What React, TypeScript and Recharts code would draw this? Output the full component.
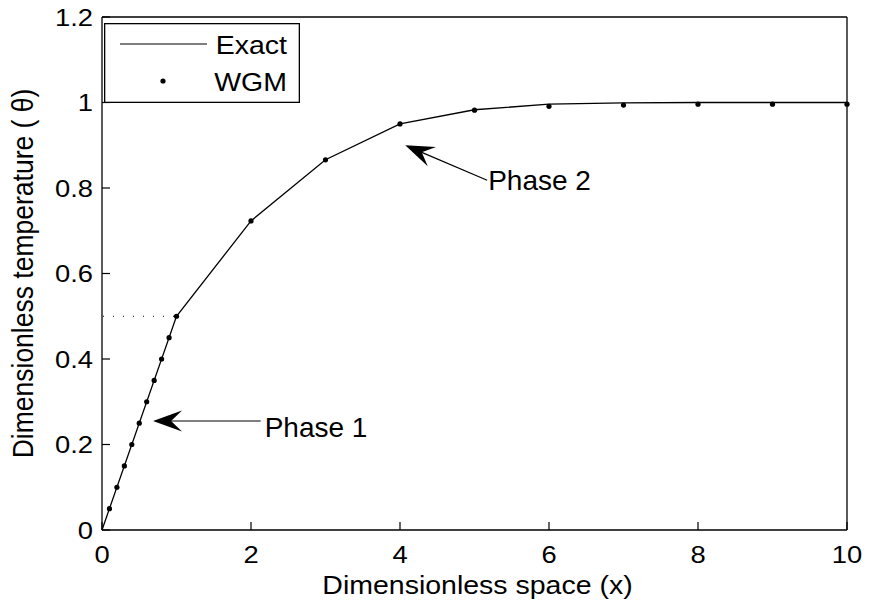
import React from 'react';
import { ComposedChart, Line, Scatter, XAxis, YAxis, ReferenceLine, Legend } from 'recharts';

// Exact solution, sampled at the grid nodes
const exactX = [0, 1, 2, 3, 4, 5, 6, 7, 8, 9, 10];
const exactTheta = [0, 0.5, 0.723, 0.866, 0.95, 0.983, 0.996, 0.999, 1.0, 1.0, 1.0];

// WGM solution points
const wgmX = [0.1, 0.2, 0.3, 0.4, 0.5, 0.6, 0.7, 0.8, 0.9, 1, 2, 3, 4, 5, 6, 7, 8, 9, 10];
const wgmTheta = [0.05, 0.1, 0.15, 0.2, 0.25, 0.3, 0.35, 0.4, 0.45, 0.5, 0.723, 0.866, 0.95, 0.982, 0.991, 0.994, 0.996, 0.996, 0.996];

const xTicks = [0, 2, 4, 6, 8, 10];
const yTicks = [0, 0.2, 0.4, 0.6, 0.8, 1, 1.2];

// phase boundary marker at theta = 0.5
const phaseBoundaryX = [0, 1];
const phaseBoundaryTheta = 0.5;

// annotation arrows: tip first, then tail
const phase1Tip = { x: 0.685, y: 0.255 };
const phase1Tail = { x: 2.13, y: 0.255 };
const phase2Tip = { x: 4.07, y: 0.9 };
const phase2Tail = { x: 5.17, y: 0.818 };

const exactData = exactX.map((x, i) => ({ x, theta: exactTheta[i] }));
const wgmData = wgmX.map((x, i) => ({ x, theta: wgmTheta[i] }));

const FONT = '"Liberation Sans", Arial, Helvetica, sans-serif';
const STRETCH = 1.14;
const TICK = 8;
const AXIS = { stroke: '#000', strokeWidth: 1.3 };

const BottomTick = (props: any) => {
  const { x, y, payload } = props;
  return (
    <g>
      <line x1={x} y1={y} x2={x} y2={y - TICK} stroke="#000" strokeWidth={1.2} />
      <text
        transform={`translate(${x},${y + 33}) scale(${STRETCH},1)`}
        textAnchor="middle"
        fontSize={24}
        fontFamily={FONT}
        fill="#000"
      >
        {payload.value}
      </text>
    </g>
  );
};

const LeftTick = (props: any) => {
  const { x, y, payload } = props;
  return (
    <g>
      <line x1={x} y1={y} x2={x + TICK} y2={y} stroke="#000" strokeWidth={1.2} />
      <text
        transform={`translate(${x - 9},${y + 8.5}) scale(${STRETCH},1)`}
        textAnchor="end"
        fontSize={24}
        fontFamily={FONT}
        fill="#000"
      >
        {payload.value}
      </text>
    </g>
  );
};

const TopTick = (props: any) => {
  const { x, y } = props;
  return <line x1={x} y1={y} x2={x} y2={y + TICK} stroke="#000" strokeWidth={1.2} />;
};

const RightTick = (props: any) => {
  const { x, y } = props;
  return <line x1={x} y1={y} x2={x - TICK} y2={y} stroke="#000" strokeWidth={1.2} />;
};

const arrow = (text: string, dx: number, dy: number) => (props: any) => {
  const { x1, y1, x2, y2 } = props;
  const len = Math.hypot(x2 - x1, y2 - y1) || 1;
  const ux = (x2 - x1) / len;
  const uy = (y2 - y1) / len;
  const nx = -uy;
  const ny = ux;
  const L = 29;
  const W = 10.5;
  const N = 18;
  const pts = [
    [x1, y1],
    [x1 + L * ux + W * nx, y1 + L * uy + W * ny],
    [x1 + N * ux, y1 + N * uy],
    [x1 + L * ux - W * nx, y1 + L * uy - W * ny],
  ]
    .map((p) => p.join(','))
    .join(' ');
  return (
    <g>
      <line x1={x1 + N * ux} y1={y1 + N * uy} x2={x2} y2={y2} stroke="#000" strokeWidth={1.2} />
      <polygon points={pts} fill="#000" />
      <text x={x2 + dx} y={y2 + dy} fontSize={28} fontFamily={FONT} fill="#000">
        {text}
      </text>
    </g>
  );
};

const LegendBox = (props: any) => {
  const { payload = [] } = props;
  return (
    <svg width={196} height={80} style={{ display: 'block' }}>
      <rect x={0.65} y={0.65} width={194.7} height={78.7} fill="#fff" stroke="#000" strokeWidth={1.3} />
      {payload.map((entry: any, i: number) => {
        const cy = 21 + i * 37;
        return (
          <g key={entry.value}>
            {entry.type === 'line' ? (
              <line x1={16} y1={cy} x2={103} y2={cy} stroke="#000" strokeWidth={1.2} />
            ) : (
              <circle cx={59} cy={cy} r={2.6} fill="#000" />
            )}
            <text
              transform={`translate(183,${cy + 10}) scale(${STRETCH},1)`}
              textAnchor="end"
              fontSize={25}
              fontFamily={FONT}
              fill="#000"
            >
              {entry.value}
            </text>
          </g>
        );
      })}
    </svg>
  );
};

export default function App() {
  return (
    <div style={{ position: 'absolute', left: 0, top: 0, width: 869, height: 604, background: '#fff' }}>
      <ComposedChart width={869} height={604} margin={{ top: 0, right: 0, bottom: 0, left: 0 }}>
        <XAxis
          xAxisId="main"
          type="number"
          dataKey="x"
          domain={[0, 10]}
          ticks={xTicks}
          height={74}
          axisLine={AXIS}
          tickLine={false}
          tickSize={0}
          tickMargin={0}
          tick={<BottomTick />}
          interval={0}
          label={{
            content: (p: any) => {
              const vb = p.viewBox;
              return (
                <text
                  transform={`translate(${vb.x + vb.width / 2 + 3},${vb.y + 64}) scale(${STRETCH},1)`}
                  textAnchor="middle"
                  fontSize={25}
                  fontFamily={FONT}
                  fill="#000"
                >
                  Dimensionless space (x)
                </text>
              );
            },
          }}
        />
        <XAxis
          xAxisId="top"
          orientation="top"
          type="number"
          domain={[0, 10]}
          ticks={xTicks}
          height={17}
          axisLine={AXIS}
          tickLine={false}
          tickSize={0}
          tickMargin={0}
          tick={<TopTick />}
          interval={0}
        />
        <YAxis
          yAxisId="main"
          type="number"
          domain={[0, 1.2]}
          ticks={yTicks}
          width={102}
          axisLine={AXIS}
          tickLine={false}
          tickSize={0}
          tickMargin={0}
          tick={<LeftTick />}
          interval={0}
          label={{
            content: (p: any) => {
              const vb = p.viewBox;
              return (
                <text
                  transform={`translate(33,${vb.y + vb.height / 2}) rotate(-90) scale(1,1.08)`}
                  textAnchor="middle"
                  fontSize={26.5}
                  fontFamily={FONT}
                  fill="#000"
                >
                  Dimensionless temperature ( θ)
                </text>
              );
            },
          }}
        />
        <YAxis
          yAxisId="right"
          orientation="right"
          type="number"
          domain={[0, 1.2]}
          ticks={yTicks}
          width={22}
          axisLine={AXIS}
          tickLine={false}
          tickSize={0}
          tickMargin={0}
          tick={<RightTick />}
          interval={0}
        />
        <ReferenceLine
          xAxisId="main"
          yAxisId="main"
          segment={[
            { x: phaseBoundaryX[0], y: phaseBoundaryTheta },
            { x: phaseBoundaryX[1], y: phaseBoundaryTheta },
          ]}
          stroke="#000"
          strokeWidth={1.2}
          strokeDasharray="1 9"
          strokeDashoffset={-1}
        />
        <Line
          xAxisId="main"
          yAxisId="main"
          name="Exact"
          data={exactData}
          dataKey="theta"
          type="linear"
          stroke="#000"
          strokeWidth={1.3}
          dot={false}
          activeDot={false}
          legendType="line"
          isAnimationActive={false}
        />
        <Scatter
          xAxisId="main"
          yAxisId="main"
          name="WGM"
          data={wgmData}
          dataKey="theta"
          fill="#000"
          legendType="circle"
          shape={(p: any) => <circle cx={p.cx} cy={p.cy} r={2.6} fill="#000" />}
          isAnimationActive={false}
        />
        <ReferenceLine
          xAxisId="main"
          yAxisId="main"
          segment={[phase1Tip, phase1Tail]}
          shape={arrow('Phase 1', 4, 16)}
        />
        <ReferenceLine
          xAxisId="main"
          yAxisId="main"
          segment={[phase2Tip, phase2Tail]}
          shape={arrow('Phase 2', 1, 10)}
        />
        <Legend
          layout="horizontal"
          verticalAlign="middle"
          align="center"
          content={<LegendBox />}
          wrapperStyle={{ position: 'absolute', left: 104, top: 23, width: 196, height: 80 }}
        />
      </ComposedChart>
    </div>
  );
}
